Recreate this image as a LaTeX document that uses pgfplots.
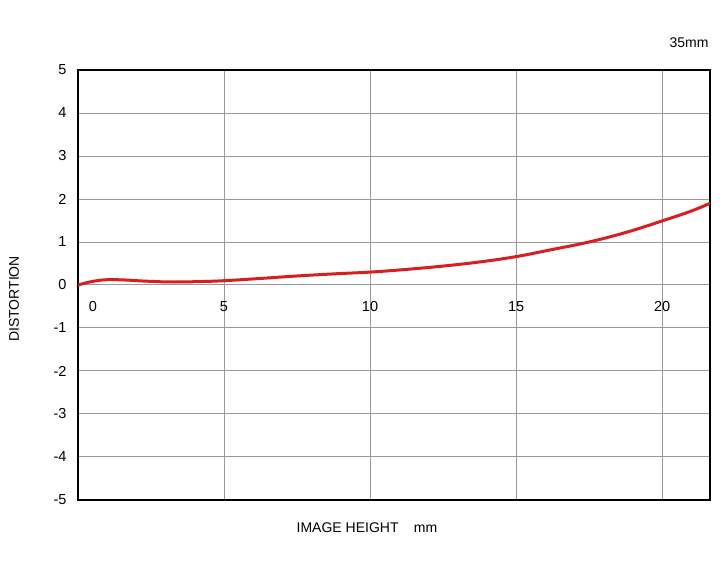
\documentclass[border=0pt]{standalone}
\usepackage{pgfplots}
\pgfplotsset{compat=1.18}
\usepackage{fontspec}
\setmainfont{Liberation Sans}
\definecolor{curvered}{HTML}{D81E1E}
\definecolor{gridgray}{HTML}{999999}
\begin{document}
\begin{tikzpicture}[x=1pt,y=1pt]
\path[use as bounding box] (0,0) rectangle (720,570);
\begin{axis}[
  at={(78pt,70pt)}, anchor=south west,
  scale only axis, width=632pt, height=430pt,
  xmin=0, xmax=21.64, ymin=-5, ymax=5,
  xtick={5,10,15,20}, xticklabels={},
  ytick={-5,-4,-3,-2,-1,0,1,2,3,4,5},
  yticklabels={-5,-4,-3,-2,-1,0,1,2,3,4,5},
  yticklabel style={font=\fontsize{14.5}{16}\selectfont, xshift=-8pt},
  major tick length=0pt,
  grid=major,
  major grid style={gridgray, line width=1pt},
  axis line style={black, line width=2pt},
  clip=true,
]
\addplot[curvered, line width=3pt, smooth, tension=0.6] coordinates {
(0,0) (0.4,0.07) (0.9,0.12) (1.5,0.12) (2.3,0.09) (3.2,0.07) (4.2,0.08) (5,0.1) (6.2,0.15) (7.5,0.21) (8.8,0.26) (10,0.3) (11.2,0.36) (12.5,0.44) (13.8,0.54) (15,0.66) (16.2,0.82) (17.5,1.0) (18.8,1.23) (20,1.49) (21,1.72) (21.64,1.9)
};
\node[font=\fontsize{14.5}{16}\selectfont, anchor=north] at (axis cs:0.51,-0.3) {0};
\node[font=\fontsize{14.5}{16}\selectfont, anchor=north] at (axis cs:5,-0.3) {5};
\node[font=\fontsize{14.5}{16}\selectfont, anchor=north] at (axis cs:10,-0.3) {10};
\node[font=\fontsize{14.5}{16}\selectfont, anchor=north] at (axis cs:15,-0.3) {15};
\node[font=\fontsize{14.5}{16}\selectfont, anchor=north] at (axis cs:20,-0.3) {20};
\end{axis}
\node[font=\fontsize{14}{16}\selectfont, rotate=90] at (14,271) {DISTORTION};
\node[font=\fontsize{14}{16}\selectfont] at (367,42) {IMAGE HEIGHT\hspace{1.1em}mm};
\node[font=\fontsize{14}{16}\selectfont, anchor=east] at (712,527) {35mm};
\end{tikzpicture}
\end{document}
